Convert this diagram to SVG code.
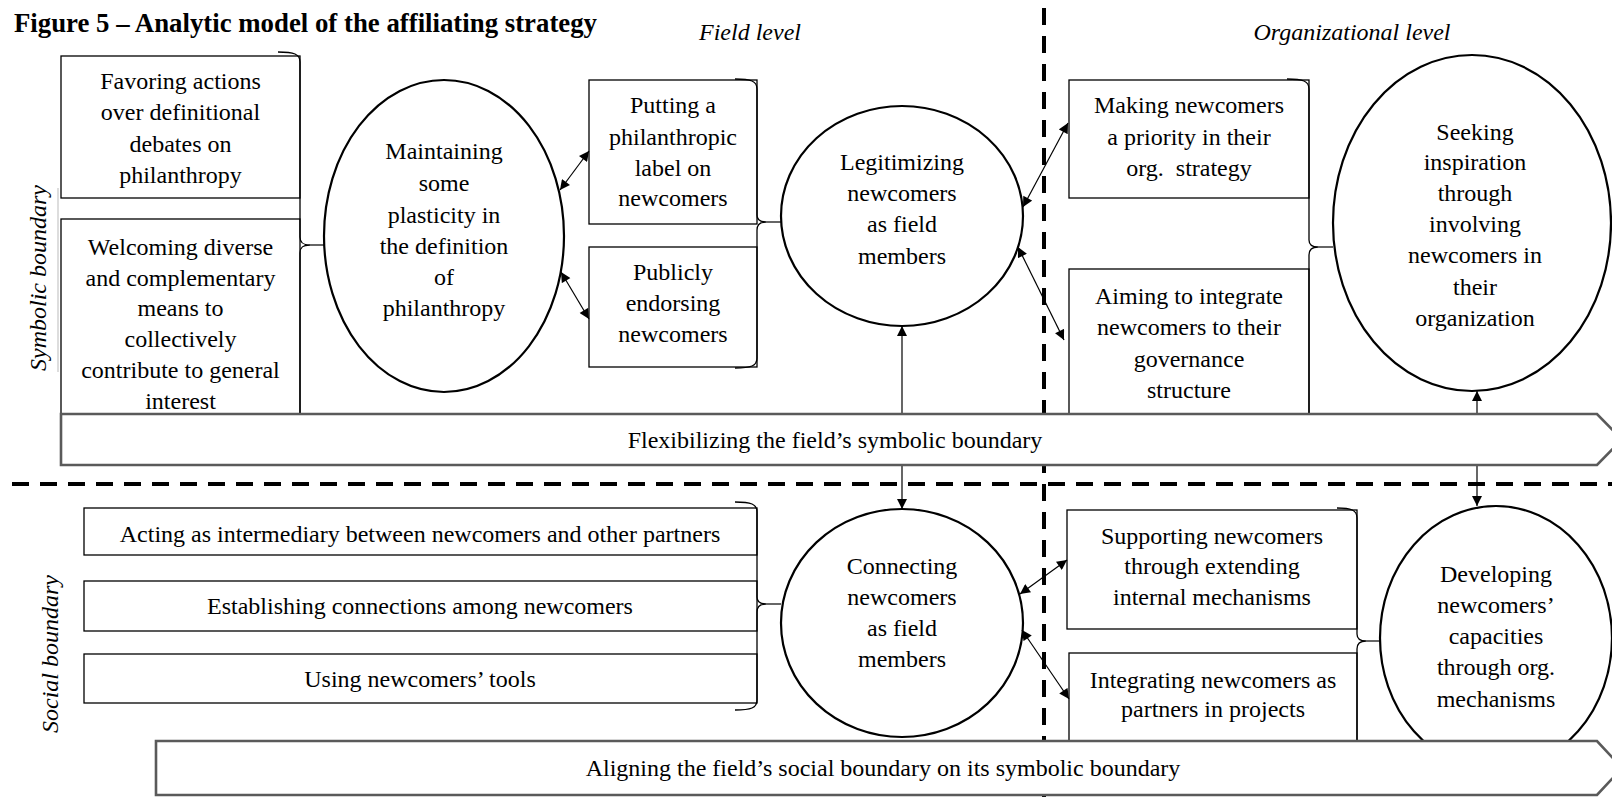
<svg xmlns="http://www.w3.org/2000/svg" width="1612" height="797" viewBox="0 0 1612 797">
  <defs>
    <marker id="ah" viewBox="0 0 10 10" refX="10" refY="5" markerWidth="11" markerHeight="10" markerUnits="userSpaceOnUse" orient="auto-start-reverse">
      <path d="M0,0 L10,5 L0,10 Z" fill="#000"/>
    </marker>
    <style>
      text { font-family: "Liberation Serif", "Times New Roman", serif; fill: #000; }
      .t { font-size: 24px; text-anchor: middle; }
      .it { font-size: 24px; font-style: italic; text-anchor: middle; }
      .title { font-size: 26.8px; font-weight: bold; }
      .box { fill: #fff; stroke: #000; stroke-width: 1.3; }
      .ell { fill: #fff; stroke: #000; stroke-width: 2.2; }
      .bar { fill: #fff; stroke: #5a5a5a; stroke-width: 2.6; }
      .brace { fill: none; stroke: #000; stroke-width: 1.3; }
      .dash { stroke: #000; stroke-width: 4; stroke-dasharray: 17 11; fill: none; }
      .conn { stroke: #000; stroke-width: 1.2; fill: none; }
      .dbl { marker-start: url(#ah); marker-end: url(#ah); }
      .one { marker-end: url(#ah); }
    </style>
  </defs>

  <rect width="1612" height="797" fill="#fff"/>

  <!-- heading and level labels -->
  <text class="title" x="14" y="32">Figure 5 – Analytic model of the affiliating strategy</text>
  <text class="it" x="750" y="40">Field level</text>
  <text class="it" x="1352" y="40">Organizational level</text>

  <!-- boundary labels -->
  <line x1="58" y1="188" x2="58" y2="372" stroke="#bbb" stroke-width="1"/>
  <text class="it" transform="translate(46,278) rotate(-90)">Symbolic boundary</text>
  <text class="it" transform="translate(58,654) rotate(-90)">Social boundary</text>

  <!-- quadrant separators -->
  <g id="separators">
    <line class="dash" x1="1044" y1="8" x2="1044" y2="797"/>
    <line class="dash" x1="12" y1="484" x2="1612" y2="484"/>
  </g>

  <!-- symbolic boundary, field level -->
  <g id="favoring">
    <rect class="box" x="61" y="56" width="239" height="142"/>
    <text class="t" x="180.5" y="89">Favoring actions</text>
    <text class="t" x="180.5" y="120">over definitional</text>
    <text class="t" x="180.5" y="152">debates on</text>
    <text class="t" x="180.5" y="183">philanthropy</text>
  </g>
  <g id="welcoming">
    <rect class="box" x="61" y="219" width="239" height="200"/>
    <text class="t" x="180.5" y="255">Welcoming diverse</text>
    <text class="t" x="180.5" y="286">and complementary</text>
    <text class="t" x="180.5" y="316">means to</text>
    <text class="t" x="180.5" y="347">collectively</text>
    <text class="t" x="180.5" y="378">contribute to general</text>
    <text class="t" x="180.5" y="409">interest</text>
  </g>
  <g id="maintaining">
    <ellipse class="ell" cx="444" cy="236" rx="120" ry="156"/>
    <text class="t" x="444" y="159">Maintaining</text>
    <text class="t" x="444" y="191">some</text>
    <text class="t" x="444" y="223">plasticity in</text>
    <text class="t" x="444" y="254">the definition</text>
    <text class="t" x="444" y="285">of</text>
    <text class="t" x="444" y="316">philanthropy</text>
  </g>
  <g id="putting">
    <rect class="box" x="589" y="80" width="168" height="144"/>
    <text class="t" x="673" y="113">Putting a</text>
    <text class="t" x="673" y="145">philanthropic</text>
    <text class="t" x="673" y="176">label on</text>
    <text class="t" x="673" y="206">newcomers</text>
  </g>
  <g id="publicly">
    <rect class="box" x="589" y="247" width="168" height="120"/>
    <text class="t" x="673" y="280">Publicly</text>
    <text class="t" x="673" y="311">endorsing</text>
    <text class="t" x="673" y="342">newcomers</text>
  </g>
  <g id="legitimizing">
    <ellipse class="ell" cx="902" cy="216" rx="121" ry="110"/>
    <text class="t" x="902" y="170">Legitimizing</text>
    <text class="t" x="902" y="201">newcomers</text>
    <text class="t" x="902" y="232">as field</text>
    <text class="t" x="902" y="264">members</text>
  </g>

  <!-- symbolic boundary, organizational level -->
  <g id="making">
    <rect class="box" x="1069" y="80" width="240" height="118"/>
    <text class="t" x="1189" y="113">Making newcomers</text>
    <text class="t" x="1189" y="145">a priority in their</text>
    <text class="t" x="1189" y="176" xml:space="preserve">org.  strategy</text>
  </g>
  <g id="aiming">
    <rect class="box" x="1069" y="269" width="240" height="150"/>
    <text class="t" x="1189" y="304">Aiming to integrate</text>
    <text class="t" x="1189" y="335">newcomers to their</text>
    <text class="t" x="1189" y="367">governance</text>
    <text class="t" x="1189" y="398">structure</text>
  </g>
  <g id="seeking">
    <ellipse class="ell" cx="1472" cy="223" rx="139" ry="168"/>
    <text class="t" x="1475" y="140">Seeking</text>
    <text class="t" x="1475" y="170">inspiration</text>
    <text class="t" x="1475" y="201">through</text>
    <text class="t" x="1475" y="232">involving</text>
    <text class="t" x="1475" y="263">newcomers in</text>
    <text class="t" x="1475" y="295">their</text>
    <text class="t" x="1475" y="326">organization</text>
  </g>

  <!-- social boundary, field level -->
  <g id="acting">
    <rect class="box" x="84" y="508" width="673" height="47"/>
    <text class="t" x="420" y="542">Acting as intermediary between newcomers and other partners</text>
  </g>
  <g id="establishing">
    <rect class="box" x="84" y="581" width="673" height="50"/>
    <text class="t" x="420" y="614">Establishing connections among newcomers</text>
  </g>
  <g id="using">
    <rect class="box" x="84" y="654" width="673" height="49"/>
    <text class="t" x="420" y="687">Using newcomers’ tools</text>
  </g>
  <g id="connecting">
    <ellipse class="ell" cx="902" cy="623" rx="121" ry="114"/>
    <text class="t" x="902" y="574">Connecting</text>
    <text class="t" x="902" y="605">newcomers</text>
    <text class="t" x="902" y="636">as field</text>
    <text class="t" x="902" y="667">members</text>
  </g>

  <!-- social boundary, organizational level -->
  <g id="supporting">
    <rect class="box" x="1067" y="510" width="290" height="119"/>
    <text class="t" x="1212" y="544">Supporting newcomers</text>
    <text class="t" x="1212" y="574">through extending</text>
    <text class="t" x="1212" y="605">internal mechanisms</text>
  </g>
  <g id="integrating">
    <rect class="box" x="1069" y="653" width="288" height="100"/>
    <text class="t" x="1213" y="688">Integrating newcomers as</text>
    <text class="t" x="1213" y="717">partners in projects</text>
  </g>
  <g id="developing">
    <ellipse class="ell" cx="1496" cy="638" rx="116" ry="132"/>
    <text class="t" x="1496" y="582">Developing</text>
    <text class="t" x="1496" y="613">newcomers’</text>
    <text class="t" x="1496" y="644">capacities</text>
    <text class="t" x="1496" y="675">through org.</text>
    <text class="t" x="1496" y="707">mechanisms</text>
  </g>

  <!-- braces and connectors -->
  <g id="connectors">
    <path class="brace" d="M278,52 C294,52 300,54 300,62 V237 C300,243 303,245 310,245 C303,245 300,247 300,253 V420"/>
    <line class="conn" x1="310" y1="245" x2="324" y2="245"/>
    <path class="brace" d="M735,79 C751,79 757,81 757,89 V215 C757,220 760,222 766,222 C760,222 757,224 757,230 V358 C757,366 751,368 735,368"/>
    <line class="conn" x1="766" y1="222" x2="781" y2="222"/>
    <path class="brace" d="M1287,79 C1303,79 1309,81 1309,89 V240 C1309,245 1312,247 1318,247 C1312,247 1309,249 1309,255 V420"/>
    <line class="conn" x1="1318" y1="247" x2="1333" y2="247"/>
    <path class="brace" d="M735,502 C751,502 757,504 757,512 V597 C757,602 760,604 766,604 C760,604 757,606 757,612 V700 C757,708 751,710 735,710"/>
    <line class="conn" x1="766" y1="604" x2="781" y2="604"/>
    <path class="brace" d="M1337,508 C1351,508 1357,510 1357,518 V634 C1357,639 1360,641 1366,641 C1360,641 1357,643 1357,649 V745"/>
    <line class="conn" x1="1366" y1="641" x2="1380" y2="641"/>

    <line class="conn dbl" x1="560" y1="190" x2="589" y2="151"/>
    <line class="conn dbl" x1="561" y1="272" x2="589" y2="319"/>
    <line class="conn dbl" x1="1023" y1="207" x2="1068" y2="123"/>
    <line class="conn dbl" x1="1018" y1="247" x2="1064" y2="340"/>
    <line class="conn dbl" x1="1020" y1="594" x2="1067" y2="560"/>
    <line class="conn dbl" x1="1022" y1="630" x2="1069" y2="699"/>

    <line class="conn one" x1="902" y1="414" x2="902" y2="326"/>
    <line class="conn one" x1="1477" y1="414" x2="1477" y2="391"/>
    <line class="conn one" x1="902" y1="465" x2="902" y2="509"/>
    <line class="conn one" x1="1477" y1="465" x2="1477" y2="506"/>
  </g>

  <!-- boundary process bars -->
  <g id="flexibilizing">
    <polygon class="bar" points="61,414 1597,414 1622,439.5 1597,465 61,465"/>
    <text class="t" x="835" y="448">Flexibilizing the field’s symbolic boundary</text>
  </g>
  <g id="aligning">
    <polygon class="bar" points="156,741 1597,741 1622,768 1597,795 156,795"/>
    <text class="t" x="883" y="776">Aligning the field’s social boundary on its symbolic boundary</text>
  </g>
</svg>
